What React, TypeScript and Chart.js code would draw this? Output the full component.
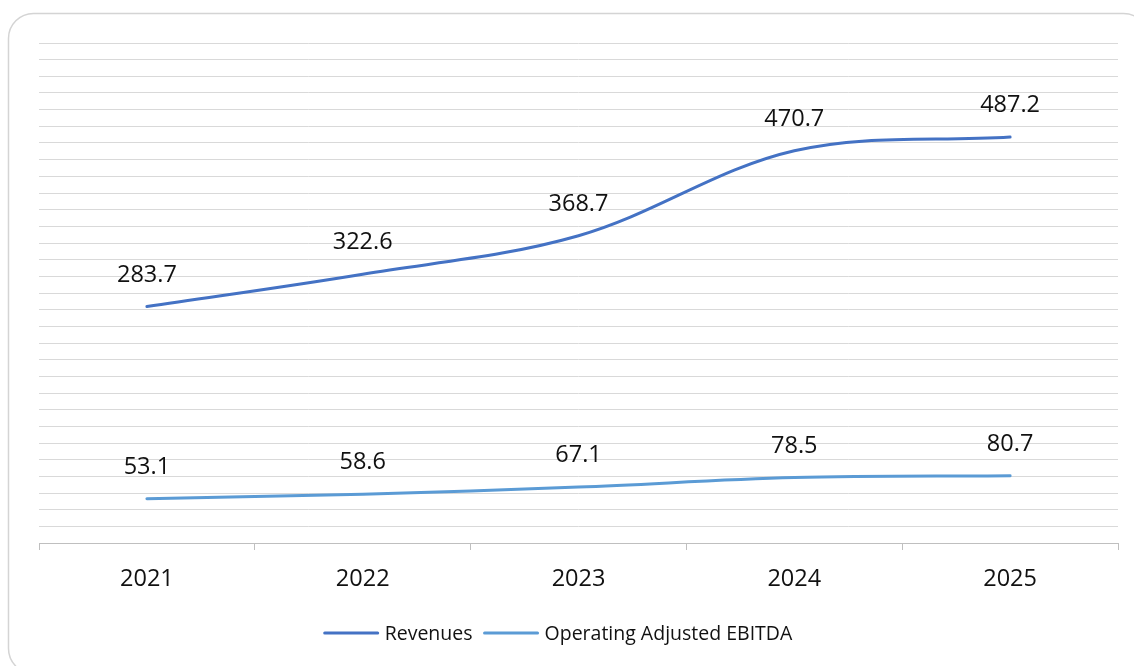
import React, { useEffect, useRef } from "react";
import { Chart, registerables } from "chart.js";

Chart.register(...registerables);

const categories = ["2021", "2022", "2023", "2024", "2025"];
const revenues = [283.7, 322.6, 368.7, 470.7, 487.2];
const ebitda = [53.1, 58.6, 67.1, 78.5, 80.7];
const seriesNames = ["Revenues", "Operating Adjusted EBITDA"];
const seriesColors = ["#4472C4", "#5B9BD5"];

const FONT = "'Open Sans', 'Noto Sans', sans-serif";
const TEXT = "#111111";

const framePlugin = {
  id: "frame",
  beforeDraw(chart: any) {
    const ctx = chart.ctx;
    ctx.save();
    ctx.fillStyle = "#ffffff";
    ctx.fillRect(0, 0, chart.width, chart.height);
    ctx.beginPath();
    (ctx as any).roundRect(8.5, 13.5, 1140, 660, 25);
    ctx.strokeStyle = "#d4d4d4";
    ctx.lineWidth = 1.5;
    ctx.stroke();
    ctx.restore();
  },
};

const labelPlugin = {
  id: "valueLabels",
  afterDatasetsDraw(chart: any) {
    const ctx = chart.ctx;
    ctx.save();
    ctx.font = `23.5px ${FONT}`;
    ctx.fillStyle = TEXT;
    ctx.textAlign = "center";
    ctx.textBaseline = "alphabetic";
    chart.data.datasets.forEach((ds: any, i: number) => {
      const meta = chart.getDatasetMeta(i);
      meta.data.forEach((pt: any, j: number) => {
        ctx.fillText(ds.data[j].toFixed(1), pt.x, pt.y - 25);
      });
    });
    ctx.restore();
  },
};

const legendPlugin = {
  id: "customLegend",
  afterDraw(chart: any) {
    const ctx = chart.ctx;
    ctx.save();
    ctx.font = `19.5px ${FONT}`;
    const lineW = 55;
    const gap = 6;
    const itemGap = 11;
    const widths = seriesNames.map((n) => ctx.measureText(n).width);
    const total =
      widths.reduce((a, b) => a + b, 0) + seriesNames.length * (lineW + gap) + itemGap * (seriesNames.length - 1);
    let x = 558 - total / 2;
    const y = 633;
    seriesNames.forEach((n, i) => {
      ctx.strokeStyle = seriesColors[i];
      ctx.lineWidth = 3;
      ctx.lineCap = "round";
      ctx.beginPath();
      ctx.moveTo(x + 1, y);
      ctx.lineTo(x + lineW - 1, y);
      ctx.stroke();
      x += lineW + gap;
      ctx.fillStyle = TEXT;
      ctx.textBaseline = "middle";
      ctx.textAlign = "left";
      ctx.fillText(n, x, y + 1);
      x += widths[i] + itemGap;
    });
    ctx.restore();
  },
};

export default function App() {
  const ref = useRef<HTMLCanvasElement>(null);
  useEffect(() => {
    document.body.style.margin = "0";
    const chart = new Chart(ref.current as HTMLCanvasElement, {
      type: "line",
      data: {
        labels: categories,
        datasets: [
          {
            label: seriesNames[0],
            data: revenues,
            borderColor: seriesColors[0],
            backgroundColor: seriesColors[0],
            borderWidth: 3,
            pointRadius: 0,
            tension: 0.35,
            borderCapStyle: "round",
          },
          {
            label: seriesNames[1],
            data: ebitda,
            borderColor: seriesColors[1],
            backgroundColor: seriesColors[1],
            borderWidth: 3,
            pointRadius: 0,
            tension: 0.35,
            borderCapStyle: "round",
          },
        ],
      },
      options: {
        animation: false,
        responsive: false,
        devicePixelRatio: 1,
        layout: { padding: { left: 39, right: 16, top: 43, bottom: 0 } },
        plugins: { legend: { display: false }, tooltip: { enabled: false } },
        scales: {
          x: {
            offset: true,
            grid: {
              offset: true,
              drawOnChartArea: false,
              drawTicks: true,
              tickLength: 7,
              color: "#bfbfbf",
            },
            border: { display: true, color: "#bfbfbf", width: 1 },
            ticks: {
              color: TEXT,
              font: { family: FONT, size: 23.5 },
              padding: 15,
              maxRotation: 0,
            },
            afterFit(scale: any) {
              scale.height = 123;
            },
          },
          y: {
            min: 0,
            max: 600,
            ticks: { display: false, stepSize: 20 },
            grid: { drawTicks: false, color: "#d9d9d9", lineWidth: 1 },
            border: { display: false },
            afterFit(scale: any) {
              scale.width = 0;
            },
          },
        },
      },
      plugins: [framePlugin, labelPlugin, legendPlugin],
    } as any);
    return () => chart.destroy();
  }, []);
  return <canvas ref={ref} width={1134} height={666} style={{ display: "block" }} />;
}
